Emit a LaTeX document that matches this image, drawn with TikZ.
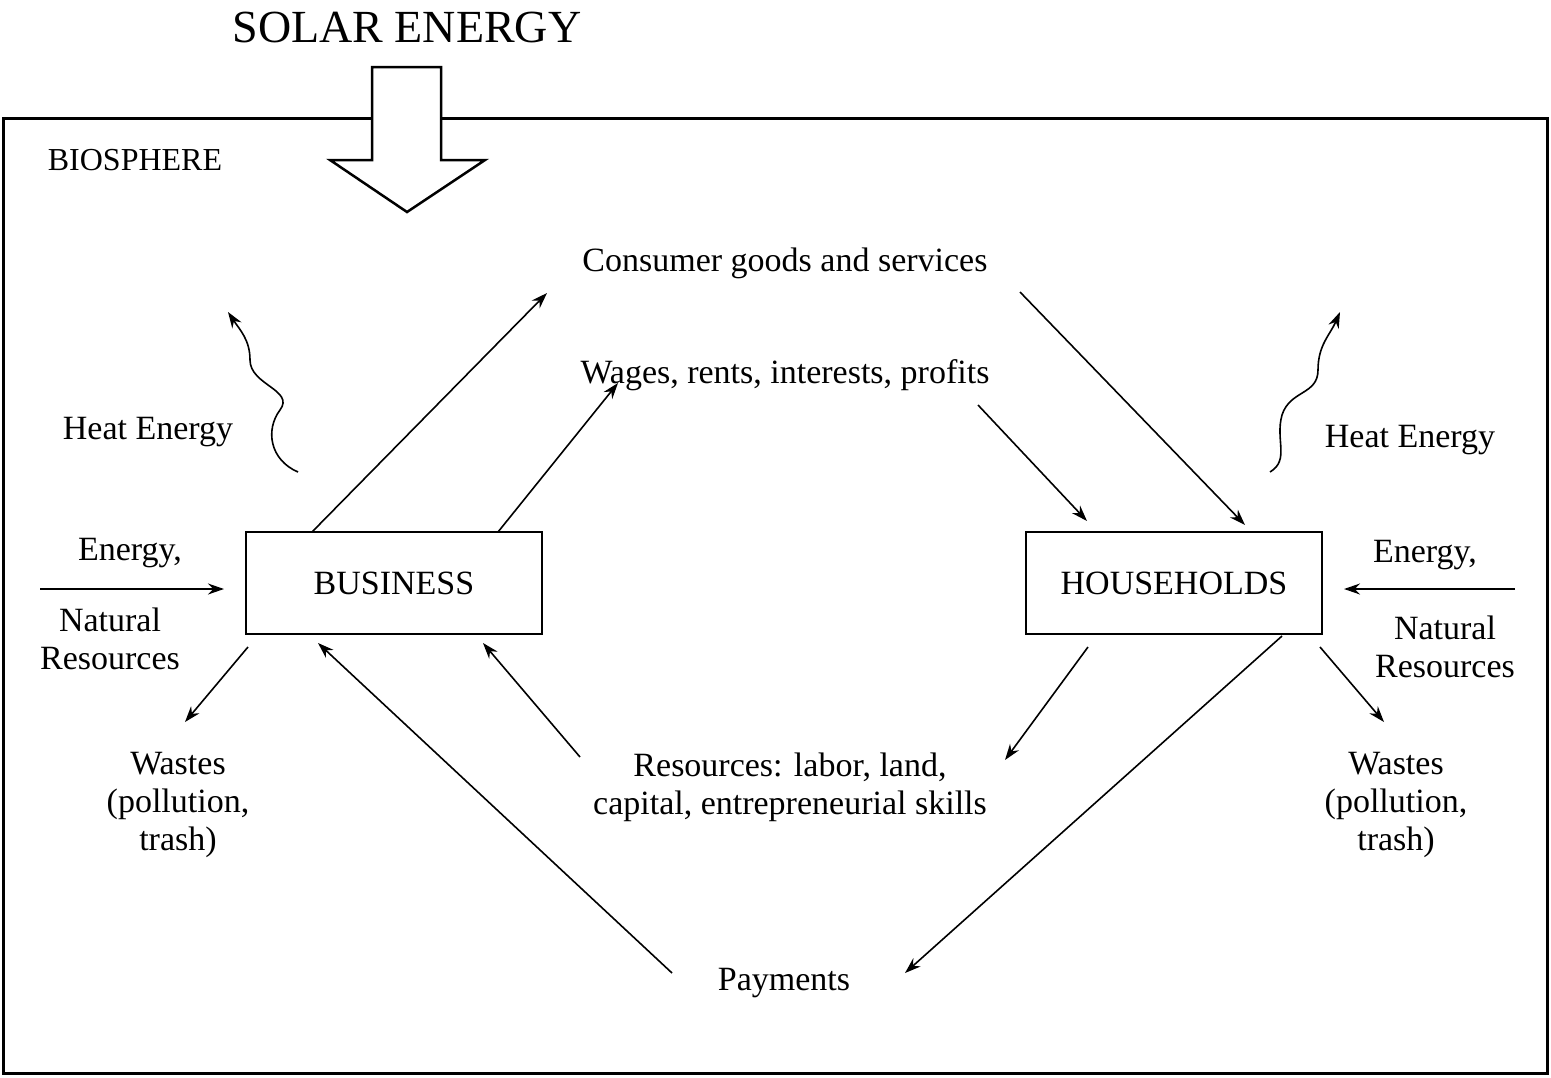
\documentclass[tikz,border=0pt]{standalone}
\usepackage{fontspec}
\setmainfont{Liberation Serif}
\usetikzlibrary{arrows.meta}
\begin{document}
\begin{tikzpicture}[x=1pt,y=-1pt,
  lbl/.style={font=\fontsize{34}{38}\selectfont,align=center,inner sep=0},
  boxn/.style={draw,line width=2pt,minimum width=296pt,minimum height=102pt,font=\fontsize{34}{38}\selectfont},
  arr/.style={line width=1.6pt,-{Stealth[length=16pt,width=11pt]}}]
\useasboundingbox (0,0) rectangle (1551,1077);
\draw[line width=3pt] (3,118) rectangle (1547,1073);
% solar arrow
\draw[line width=2.5pt,fill=white] (372,67) -- (441,67) -- (441,160) -- (485,160) -- (407,212) -- (330,160) -- (372,160) -- cycle;
\node[lbl,font=\fontsize{46}{50}\selectfont] (solar) at (407,27) {SOLAR ENERGY};
\node[lbl,font=\fontsize{32}{36}\selectfont] (bio) at (135,160) {BIOSPHERE};
\node[boxn] (bus) at (394,583) {BUSINESS};
\node[boxn] (hh) at (1174,583) {HOUSEHOLDS};
\node[lbl] (cons) at (785,263) {Consumer goods and services};
\node[lbl] (wag) at (785,375) {Wages, rents, interests, profits};
\node[lbl] (heatL) at (148,432) {Heat Energy};
\node[lbl] (heatR) at (1410,440) {Heat Energy};
\node[lbl] (enL) at (130,553) {Energy,};
\node[lbl] (nrL) at (110,639) {Natural\\Resources};
\node[lbl] (enR) at (1425,555) {Energy,};
\node[lbl] (nrR) at (1445,647) {Natural\\Resources};
\node[lbl] (wL) at (178,805) {Wastes\\(pollution,\\trash)};
\node[lbl] (wR) at (1396,805) {Wastes\\(pollution,\\trash)};
\node[lbl] (res) at (790,787) {Resources: labor, land,\\capital, entrepreneurial skills};
\node[lbl] (pay) at (784,983) {Payments};
\coordinate (a1) at (312,532); \coordinate (a2) at (547,293);
\coordinate (b1) at (498,532); \coordinate (b2) at (618,383);
\coordinate (c1) at (1020,292); \coordinate (c2) at (1245,525);
\coordinate (d1) at (978,405); \coordinate (d2) at (1087,521);
\coordinate (e1) at (40,589); \coordinate (e2) at (224,589);
\coordinate (f1) at (1515,589); \coordinate (f2) at (1344,589);
\coordinate (g1) at (248,647); \coordinate (g2) at (185,722);
\coordinate (h1) at (1320,647); \coordinate (h2) at (1384,722);
\coordinate (i1) at (1088,647); \coordinate (i2) at (1005,760);
\coordinate (j1) at (1282,636); \coordinate (j2) at (905,973);
\coordinate (k1) at (672,973); \coordinate (k2) at (318,643);
\coordinate (l1) at (580,757); \coordinate (l2) at (483,643);
\foreach \s in {a,b,c,d,e,f,g,h,i,j,k,l} \draw[arr] (\s1) -- (\s2);
% wavy heat arrows
\coordinate (wl1) at (298,472); \coordinate (wl2) at (228,312);
\draw[arr] (wl1) .. controls (270,460) and (265,430) .. (280,410)
  .. controls (295,390) and (250,385) .. (250,360)
  .. controls (250,340) and (240,330) .. (wl2);
\coordinate (wr1) at (1270,472); \coordinate (wr2) at (1340,312);
\draw[arr] (wr1) .. controls (1290,460) and (1275,440) .. (1282,415)
  .. controls (1290,390) and (1318,395) .. (1318,370)
  .. controls (1318,345) and (1330,335) .. (wr2);
\end{tikzpicture}
\end{document}
